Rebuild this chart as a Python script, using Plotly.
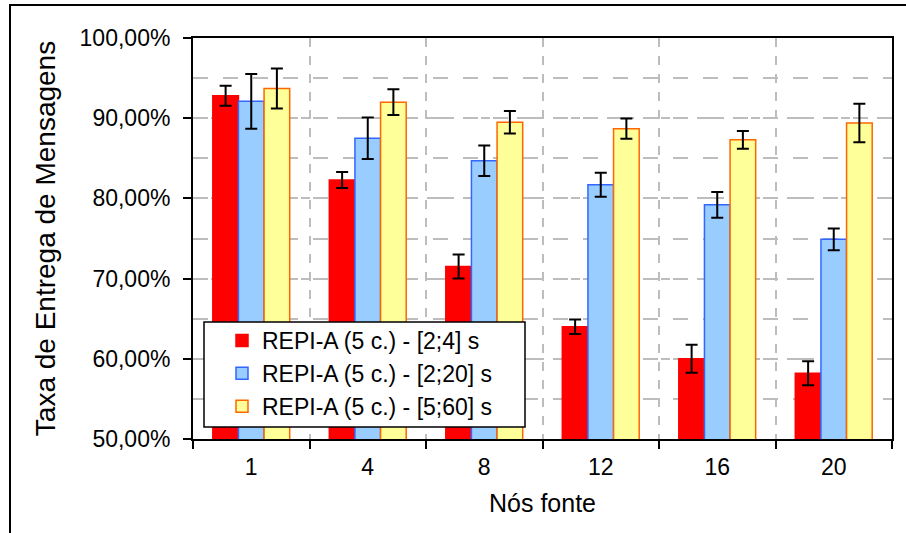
import plotly.graph_objects as go

# ---- data -------------------------------------------------------------
nodes = ["1", "4", "8", "12", "16", "20"]

series_names = [
    "REPI-A (5 c.) - [2;4] s",
    "REPI-A (5 c.) - [2;20] s",
    "REPI-A (5 c.) - [5;60] s",
]

rate_2_4 = [92.8, 82.3, 71.5, 64.0, 60.0, 58.2]
err_2_4 = [1.25, 1.0, 1.5, 0.9, 1.75, 1.5]

rate_2_20 = [92.1, 87.5, 84.7, 81.7, 79.2, 74.9]
err_2_20 = [3.4, 2.6, 1.9, 1.5, 1.6, 1.35]

rate_5_60 = [93.7, 92.0, 89.5, 88.7, 87.3, 89.4]
err_5_60 = [2.5, 1.6, 1.4, 1.25, 1.1, 2.4]

y_tickvals = [50, 60, 70, 80, 90, 100]
y_ticktext = ["50,00%", "60,00%", "70,00%", "80,00%", "90,00%", "100,00%"]

# ---- geometry (pixels) -------------------------------------------------
W, H = 906, 533
L, R, T, B = 193, 892, 38, 439          # plot area edges
FONT = "Liberation Sans, Arial, sans-serif"


def px_x(x):
    return (x - L) / (R - L)


def px_y(y):
    return (B - y) / (B - T)


fills = ["#FF0000", "#99CCFF", "#FFFF99"]
edges = ["#FF0000", "#3366FF", "#FF6600"]
values = [rate_2_4, rate_2_20, rate_5_60]
errors = [err_2_4, err_2_20, err_5_60]

fig = go.Figure()
for name, v, e, fc, ec in zip(series_names, values, errors, fills, edges):
    fig.add_trace(go.Bar(
        x=nodes, y=v, name=name,
        marker=dict(color=fc, line=dict(color=ec, width=1.5)),
        error_y=dict(type="data", array=e, visible=True,
                     color="black", thickness=2, width=6),
    ))

fig.update_layout(
    width=W, height=H,
    margin=dict(l=L, r=W - R, t=T, b=H - B, pad=0),
    paper_bgcolor="white", plot_bgcolor="white",
    font=dict(family=FONT, size=23, color="black"),
    barmode="group", bargap=0.34, bargroupgap=0.0,
    showlegend=True,
    legend=dict(
        x=px_x(222), y=px_y(319), xanchor="left", yanchor="top",
        bgcolor="rgba(0,0,0,0)", borderwidth=0,
        font=dict(family=FONT, size=23, color="black"),
        tracegroupgap=0, itemwidth=30,
    ),
    xaxis=dict(
        type="category", tickson="boundaries",
        ticks="outside", ticklen=8, tickwidth=1.5, tickcolor="black",
        showline=True, linecolor="black", linewidth=2, mirror=True,
        showgrid=True, gridcolor="#BDBDBD", griddash="dash", gridwidth=1.5,
        tickfont=dict(family=FONT, size=23),
        ticklabelstandoff=6,
        title=dict(text="Nós fonte", font=dict(family=FONT, size=25), standoff=16),
    ),
    yaxis=dict(
        range=[50, 100], tickvals=y_tickvals, ticktext=y_ticktext,
        ticks="outside", ticklen=8, tickwidth=1.5, tickcolor="black",
        showline=True, linecolor="black", linewidth=2, mirror=True,
        showgrid=True, gridcolor="#BDBDBD", griddash="dash", gridwidth=1.5,
        minor=dict(dtick=5, tick0=50, showgrid=True, gridcolor="#BDBDBD",
                   griddash="longdash", gridwidth=1.5, ticks=""),
        tickfont=dict(family=FONT, size=23),
        ticklabelstandoff=8,
        title=dict(text="Taxa de Entrega de Mensagens",
                   font=dict(family=FONT, size=28), standoff=16),
    ),
    shapes=[
        # legend box
        dict(type="rect", xref="paper", yref="paper",
             x0=px_x(204), x1=px_x(525), y0=px_y(427), y1=px_y(322),
             fillcolor="white", line=dict(color="black", width=1.5),
             layer="above"),
        # outer chart frame
        dict(type="rect", xref="paper", yref="paper",
             x0=px_x(10), x1=px_x(912), y0=px_y(540), y1=px_y(5),
             fillcolor="rgba(0,0,0,0)", line=dict(color="black", width=2),
             layer="above"),
    ],
)

fig.write_html("out.html")
